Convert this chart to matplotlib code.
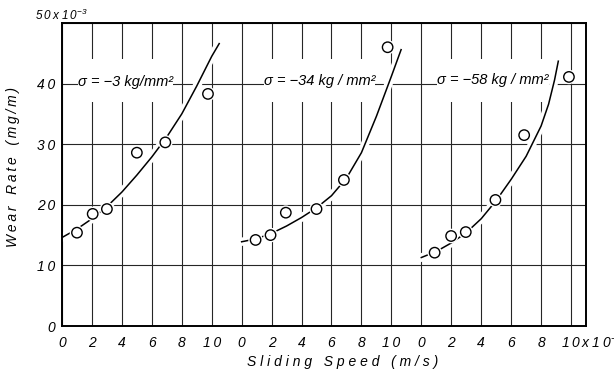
import matplotlib
matplotlib.use("Agg")
import matplotlib.pyplot as plt
import matplotlib.patheffects as pe
from matplotlib.patches import Rectangle

plt.rcParams["font.family"] = ["Liberation Sans", "DejaVu Sans"]
plt.rcParams["font.style"] = "italic"
plt.rcParams["mathtext.fontset"] = "custom"
plt.rcParams["mathtext.rm"] = "Liberation Sans:italic"
plt.rcParams["mathtext.it"] = "Liberation Sans:italic"

# measured points (sliding speed within each panel, wear rate x1e-3 mg/m)
p1_speed = [1.0, 2.05, 3.0, 5.0, 6.9, 9.75]
p1_wear = [15.4, 18.5, 19.3, 28.6, 30.3, 38.3]
p2_speed = [0.93, 1.93, 2.95, 5.0, 6.83, 9.75]
p2_wear = [14.2, 15.0, 18.7, 19.3, 24.1, 46.0]
p3_speed = [0.89, 1.99, 2.97, 4.95, 6.87, 9.86]
p3_wear = [12.1, 14.85, 15.5, 20.8, 31.5, 41.1]

# hand-drawn trend curves
c1_speed = [0, 1, 2, 3, 4, 5, 6, 7, 8, 9, 10, 10.5]
c1_wear = [14.6, 16.0, 17.7, 19.7, 22.1, 24.9, 27.9, 31.2, 35.0, 39.6, 44.5, 46.6]
c2_speed = [0, 1, 2, 3, 4, 5, 6, 7, 8, 9, 10, 10.65]
c2_wear = [13.9, 14.4, 15.3, 16.5, 17.9, 19.5, 21.5, 24.4, 28.6, 34.6, 41.2, 45.6]
c3_speed = [0, 1, 2, 3, 4, 5, 6, 7, 8, 8.5, 8.9, 9.15]
c3_wear = [11.3, 12.3, 13.7, 15.4, 17.7, 20.7, 24.2, 28.0, 33.0, 36.6, 40.6, 43.7]

stress_labels = ["σ = −3 kg/mm²", "σ = −34 kg / mm²", "σ = −58 kg / mm²"]
label_speed = [4.27, 5.2, 4.8]
label_wear = [40.3, 40.5, 40.6]

tick_vals = [0, 2, 4, 6, 8, 10]
tick_labels = ["0", "2", "4", "6", "8", "10"]
ytick_vals = [0, 10, 20, 30, 40, 50]
ytick_labels = ["0", "10", "20", "30", "40", ""]

panel_offsets = [0, 12, 24]


def spaced(s, sep="\u2009"):
    return sep.join(s)


fig = plt.figure(figsize=(6.14, 3.74), dpi=100)
ax = fig.add_axes([62 / 614, 48 / 374, 524 / 614, 303 / 374])

halo = [pe.withStroke(linewidth=6, foreground="white")]
panels = [
    (p1_speed, p1_wear, c1_speed, c1_wear),
    (p2_speed, p2_wear, c2_speed, c2_wear),
    (p3_speed, p3_wear, c3_speed, c3_wear),
]
for off, (px, py, cx, cy) in zip(panel_offsets, panels):
    ax.plot([x + off for x in cx], cy, color="black", lw=1.1,
            path_effects=halo, zorder=2)
    ax.plot([x + off for x in px], py, "o", ms=7.5, mfc="white", mec="black",
            mew=1.0, path_effects=[pe.withStroke(linewidth=3, foreground="white")],
            zorder=3)

ax.set_xlim(0, 35)
ax.set_ylim(0, 50)

xt = [v + off for off in panel_offsets for v in tick_vals]
xl = [spaced(t) for _ in panel_offsets for t in tick_labels]
xl[-1] = ""
ax.set_xticks(xt)
ax.set_xticklabels(xl, fontsize=10)
ax.set_yticks(ytick_vals)
ax.set_yticklabels([spaced(t) for t in ytick_labels], fontsize=10)
ax.tick_params(length=0)
ax.tick_params(axis="x", pad=7)
ax.tick_params(axis="y", pad=5)

ax.grid(True, color="0.15", lw=0.8)
ax.set_axisbelow(True)
for sp in ax.spines.values():
    sp.set_linewidth(1.4)

ax.text(-0.052, 1.026, spaced("50x10") + "$^{-3}$", transform=ax.transAxes,
        fontsize=8.5, ha="left", va="center")
ax.text(33.3, -0.053, spaced("10x10") + "$^{-1}$",
        transform=ax.get_xaxis_transform(), fontsize=10, ha="left", va="center",
        clip_on=False)

ax.text(-0.0935, 0.525, spaced("Wear") + "   " + spaced("Rate") + "   " + spaced("(mg/m)"),
        transform=ax.transAxes, rotation=90, fontsize=10, ha="center", va="center")
ax.text(0.535, -0.119,
        spaced("Sliding", " ") + "   " + spaced("Speed", " ") + "   " + spaced("(m/s)", " "),
        transform=ax.transAxes, fontsize=10, ha="center", va="center")

# stress labels sit on the 40 gridline with the vertical grid blanked around them
renderer = fig.canvas.get_renderer()
for off, lab, lx, ly in zip(panel_offsets, stress_labels, label_speed, label_wear):
    t = ax.text(lx + off, ly, lab, fontsize=10.5, ha="center", va="center", zorder=4)
    bb = t.get_window_extent(renderer).transformed(ax.transData.inverted())
    ax.add_patch(Rectangle((bb.x0, 37.0), bb.width, 7.0, facecolor="white",
                           edgecolor="none", zorder=1))

fig.savefig("out.png", dpi=100)
plt.close(fig)
